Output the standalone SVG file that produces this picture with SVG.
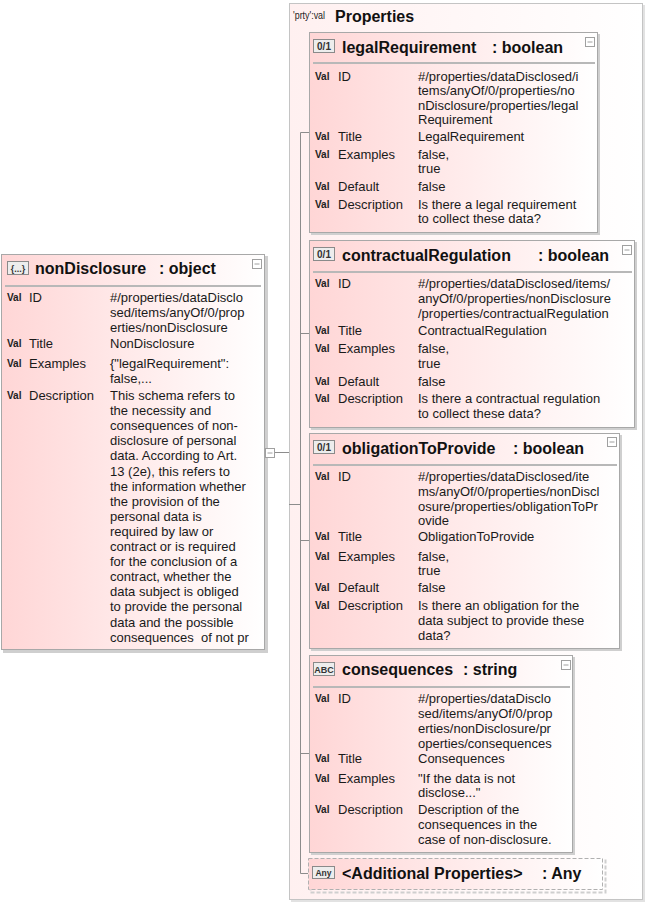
<svg xmlns="http://www.w3.org/2000/svg" width="648" height="903" viewBox="0 0 648 903">
<defs>
<linearGradient id="ng" x1="0" y1="0" x2="1" y2="0"><stop offset="0" stop-color="#FFD6D6"/><stop offset="1" stop-color="#FFFFFF"/></linearGradient>
<linearGradient id="cg" x1="0" y1="0" x2="1" y2="0"><stop offset="0" stop-color="#FFF0F0"/><stop offset="1" stop-color="#FFFFFF"/></linearGradient>
<style>
text{font-family:"Liberation Sans",Arial,sans-serif;fill:#1a1a1a}
.t{font-size:13px}
.h{font-size:16px;font-weight:bold;fill:#111}
.v{font-size:10px;font-weight:bold;fill:#222}
.ic{font-size:10px;font-weight:bold;fill:#333}
.box{fill:url(#ng);stroke:#A8A8A8;stroke-width:1}
.sh{fill:#CFCFCF}
.sep{stroke:#B8B8B8;stroke-width:2}
.icb{fill:#EDEDED;stroke:#8A8A8A;stroke-width:1}
.col{fill:#FFFFFF;stroke:#A0A0A0;stroke-width:1}
.colm{stroke:#A0A0A0;stroke-width:1}
.cn{stroke:#8C8C8C;stroke-width:1;fill:none}
</style>
</defs>
<rect x="0" y="0" width="648" height="903" fill="#FFFFFF"/>

<g id="properties">
<rect x="291" y="5" width="354" height="897" fill="#E2E2E2"/>
<rect x="289.5" y="3.5" width="353" height="896" fill="url(#cg)" stroke="#C4C4C4"/>
<text x="293" y="19" style="font-size:10px;fill:#222" textLength="32" lengthAdjust="spacingAndGlyphs">'prty':val</text>
<text x="335" y="22" class="h">Properties</text>
</g>

<g id="connectors">
<polyline class="cn" points="275,452.5 289,452.5"/>
<polyline class="cn" points="289,504.5 300.5,504.5"/>
<polyline class="cn" points="300.5,132.5 300.5,873.5"/>
<polyline class="cn" points="300.5,132.5 309,132.5"/>
<polyline class="cn" points="300.5,333.5 309,333.5"/>
<polyline class="cn" points="300.5,540.5 309,540.5"/>
<polyline class="cn" points="300.5,753.5 309,753.5"/>
<polyline class="cn" points="300.5,873.5 308,873.5"/>
</g>

<g id="nonDisclosure">
<rect x="3" y="256" width="265" height="397" class="sh"/>
<rect x="1.5" y="254.5" width="263" height="395" class="box"/>
<rect x="7.5" y="261.5" width="21" height="13" class="icb"/>
<text x="18" y="271.5" class="ic" text-anchor="middle" style="font-size:9px">{...}</text>
<text x="35" y="274" class="h">nonDisclosure</text>
<text x="159" y="274" class="h">: object</text>
<rect x="252.5" y="259.5" width="9" height="9" class="col"/>
<line x1="254.5" y1="264" x2="259.5" y2="264" class="colm"/>
<line x1="5" y1="286" x2="261" y2="286" class="sep"/>
<rect x="265.5" y="448.5" width="9" height="9" class="col"/>
<line x1="267.5" y1="453" x2="272.5" y2="453" class="colm"/>
<text x="7" y="301" class="v">Val</text><text x="29" y="302" class="t">ID</text>
<text class="t"><tspan x="110" y="302">#/properties/dataDisclo</tspan><tspan x="110" y="317">sed/items/anyOf/0/prop</tspan><tspan x="110" y="332">erties/nonDisclosure</tspan></text>
<text x="7" y="347" class="v">Val</text><text x="29" y="348" class="t">Title</text>
<text x="110" y="348" class="t">NonDisclosure</text>
<text x="7" y="367" class="v">Val</text><text x="29" y="368" class="t">Examples</text>
<text class="t"><tspan x="110" y="368">{"legalRequirement":</tspan><tspan x="110" y="383">false,...</tspan></text>
<text x="7" y="399" class="v">Val</text><text x="29" y="400" class="t">Description</text>
<text class="t"><tspan x="110" y="400">This schema refers to</tspan><tspan x="110" y="415.1">the necessity and</tspan><tspan x="110" y="430.2">consequences of non-</tspan><tspan x="110" y="445.3">disclosure of personal</tspan><tspan x="110" y="460.4">data. According to Art.</tspan><tspan x="110" y="475.5">13 (2e), this refers to</tspan><tspan x="110" y="490.6">the information whether</tspan><tspan x="110" y="505.7">the provision of the</tspan><tspan x="110" y="520.8">personal data is</tspan><tspan x="110" y="535.9">required by law or</tspan><tspan x="110" y="551">contract or is required</tspan><tspan x="110" y="566.1">for the conclusion of a</tspan><tspan x="110" y="581.2">contract, whether the</tspan><tspan x="110" y="596.3">data subject is obliged</tspan><tspan x="110" y="611.4">to provide the personal</tspan><tspan x="110" y="626.5">data and the possible</tspan><tspan x="110" y="641.6" style="white-space:pre">consequences  of not pr</tspan></text>
</g>

<g id="legalRequirement">
<rect x="311" y="34" width="289" height="201" class="sh"/>
<rect x="309.5" y="32.5" width="288" height="200" class="box"/>
<rect x="313.5" y="39.5" width="21" height="13" class="icb"/>
<text x="324" y="50" class="ic" text-anchor="middle">0/1</text>
<text x="342" y="52.5" class="h">legalRequirement</text>
<text x="492" y="52.5" class="h">: boolean</text>
<rect x="585.5" y="37.5" width="9" height="9" class="col"/>
<line x1="587.5" y1="42" x2="592.5" y2="42" class="colm"/>
<line x1="313" y1="63" x2="595" y2="63" class="sep"/>
<text x="315" y="79.5" class="v">Val</text><text x="338" y="80.5" class="t">ID</text>
<text class="t"><tspan x="418" y="80.5">#/properties/dataDisclosed/i</tspan><tspan x="418" y="95">tems/anyOf/0/properties/no</tspan><tspan x="418" y="109.5">nDisclosure/properties/legal</tspan><tspan x="418" y="124">Requirement</tspan></text>
<text x="315" y="139.5" class="v">Val</text><text x="338" y="140.5" class="t">Title</text>
<text x="418" y="140.5" class="t">LegalRequirement</text>
<text x="315" y="157.5" class="v">Val</text><text x="338" y="158.5" class="t">Examples</text>
<text class="t"><tspan x="418" y="158.5">false,</tspan><tspan x="418" y="173">true</tspan></text>
<text x="315" y="189.5" class="v">Val</text><text x="338" y="190.5" class="t">Default</text>
<text x="418" y="190.5" class="t">false</text>
<text x="315" y="207.5" class="v">Val</text><text x="338" y="208.5" class="t">Description</text>
<text class="t"><tspan x="418" y="208.5">Is there a legal requirement</tspan><tspan x="418" y="223">to collect these data?</tspan></text>
</g>

<g id="contractualRegulation">
<rect x="311" y="242" width="326" height="188" class="sh"/>
<rect x="309.5" y="240.5" width="325" height="187" class="box"/>
<rect x="313.5" y="247.5" width="21" height="13" class="icb"/>
<text x="324" y="258" class="ic" text-anchor="middle">0/1</text>
<text x="342" y="260.5" class="h">contractualRegulation</text>
<text x="538" y="260.5" class="h">: boolean</text>
<rect x="622.5" y="245.5" width="9" height="9" class="col"/>
<line x1="624.5" y1="250" x2="629.5" y2="250" class="colm"/>
<line x1="313" y1="272" x2="632" y2="272" class="sep"/>
<text x="315" y="286.5" class="v">Val</text><text x="338" y="287.5" class="t">ID</text>
<text class="t"><tspan x="418" y="287.5">#/properties/dataDisclosed/items/</tspan><tspan x="418" y="302.5">anyOf/0/properties/nonDisclosure</tspan><tspan x="418" y="317.5">/properties/contractualRegulation</tspan></text>
<text x="315" y="333.5" class="v">Val</text><text x="338" y="334.5" class="t">Title</text>
<text x="418" y="334.5" class="t">ContractualRegulation</text>
<text x="315" y="351.5" class="v">Val</text><text x="338" y="352.5" class="t">Examples</text>
<text class="t"><tspan x="418" y="352.5">false,</tspan><tspan x="418" y="367.5">true</tspan></text>
<text x="315" y="384.5" class="v">Val</text><text x="338" y="385.5" class="t">Default</text>
<text x="418" y="385.5" class="t">false</text>
<text x="315" y="401.5" class="v">Val</text><text x="338" y="402.5" class="t">Description</text>
<text class="t"><tspan x="418" y="402.5">Is there a contractual regulation</tspan><tspan x="418" y="417.5">to collect these data?</tspan></text>
</g>

<g id="obligationToProvide">
<rect x="311" y="435" width="311" height="216" class="sh"/>
<rect x="309.5" y="433.5" width="310" height="215" class="box"/>
<rect x="313.5" y="440.5" width="21" height="13" class="icb"/>
<text x="324" y="451" class="ic" text-anchor="middle">0/1</text>
<text x="342" y="454" class="h">obligationToProvide</text>
<text x="513" y="454" class="h">: boolean</text>
<rect x="607.5" y="437.5" width="9" height="9" class="col"/>
<line x1="609.5" y1="442" x2="614.5" y2="442" class="colm"/>
<line x1="313" y1="465" x2="617" y2="465" class="sep"/>
<text x="315" y="479.5" class="v">Val</text><text x="338" y="480.5" class="t">ID</text>
<text class="t"><tspan x="418" y="480.5">#/properties/dataDisclosed/ite</tspan><tspan x="418" y="495.5">ms/anyOf/0/properties/nonDiscl</tspan><tspan x="418" y="510.5">osure/properties/obligationToPr</tspan><tspan x="418" y="525">ovide</tspan></text>
<text x="315" y="539.5" class="v">Val</text><text x="338" y="540.5" class="t">Title</text>
<text x="418" y="540.5" class="t">ObligationToProvide</text>
<text x="315" y="559.5" class="v">Val</text><text x="338" y="560.5" class="t">Examples</text>
<text class="t"><tspan x="418" y="560.5">false,</tspan><tspan x="418" y="575">true</tspan></text>
<text x="315" y="590.5" class="v">Val</text><text x="338" y="591.5" class="t">Default</text>
<text x="418" y="591.5" class="t">false</text>
<text x="315" y="608.5" class="v">Val</text><text x="338" y="609.5" class="t">Description</text>
<text class="t"><tspan x="418" y="609.5">Is there an obligation for the</tspan><tspan x="418" y="624.5">data subject to provide these</tspan><tspan x="418" y="639.5">data?</tspan></text>
</g>

<g id="consequences">
<rect x="311" y="657" width="264" height="198" class="sh"/>
<rect x="309.5" y="655.5" width="263" height="197" class="box"/>
<rect x="313.5" y="662.5" width="21" height="13" class="icb"/>
<text x="324" y="672.5" class="ic" text-anchor="middle" style="font-size:9px">ABC</text>
<text x="342" y="675" class="h">consequences</text>
<text x="463" y="675" class="h">: string</text>
<rect x="561.5" y="660.5" width="9" height="9" class="col"/>
<line x1="563.5" y1="665" x2="568.5" y2="665" class="colm"/>
<line x1="313" y1="687" x2="570" y2="687" class="sep"/>
<text x="315" y="701.5" class="v">Val</text><text x="338" y="702.5" class="t">ID</text>
<text class="t"><tspan x="418" y="702.5">#/properties/dataDisclo</tspan><tspan x="418" y="717.5">sed/items/anyOf/0/prop</tspan><tspan x="418" y="732.5">erties/nonDisclosure/pr</tspan><tspan x="418" y="747.5">operties/consequences</tspan></text>
<text x="315" y="761.5" class="v">Val</text><text x="338" y="762.5" class="t">Title</text>
<text x="418" y="762.5" class="t">Consequences</text>
<text x="315" y="781.5" class="v">Val</text><text x="338" y="782.5" class="t">Examples</text>
<text class="t"><tspan x="418" y="782.5">"If the data is not</tspan><tspan x="418" y="797">disclose..."</tspan></text>
<text x="315" y="812.5" class="v">Val</text><text x="338" y="813.5" class="t">Description</text>
<text class="t"><tspan x="418" y="813.5">Description of the</tspan><tspan x="418" y="828.5">consequences in the</tspan><tspan x="418" y="843.5">case of non-disclosure.</tspan></text>
</g>

<g id="additionalProperties">
<rect x="310.5" y="860.5" width="295" height="32" fill="none" stroke="#CFCFCF" stroke-width="2" stroke-dasharray="4,2"/>
<rect x="308.5" y="858.5" width="294" height="31" fill="url(#ng)" stroke="#B0B0B0" stroke-dasharray="4,2"/>
<rect x="312.5" y="866.5" width="22" height="12" class="icb"/>
<text x="323.5" y="875.5" class="ic" text-anchor="middle" style="font-size:8.5px">Any</text>
<text x="342" y="879" class="h">&lt;Additional Properties&gt;</text>
<text x="542" y="879" class="h">: Any</text>
</g>
</svg>
